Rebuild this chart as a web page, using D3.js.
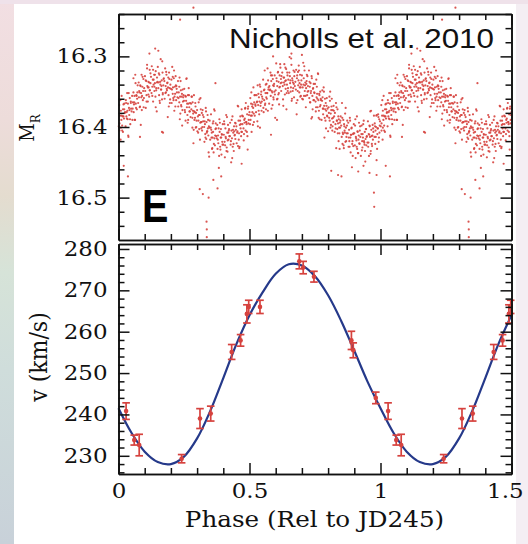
<!DOCTYPE html>
<html>
<head>
<meta charset="utf-8">
<script src="https://cdn.jsdelivr.net/npm/d3@7"></script>
<style>
  html, body { margin: 0; padding: 0; background: #fff; }
  svg { display: block; }
</style>
</head>
<body>
<svg id="chart" width="528" height="544"></svg>
<script>
// ---------------------------------------------------------------
// Tick values
const phaseMajorTicks = [0, 0.5, 1, 1.5];
const phaseMinorTicks = [0.1, 0.2, 0.3, 0.4, 0.6, 0.7, 0.8, 0.9, 1.1, 1.2, 1.3, 1.4];
const magMajorTicks = [16.3, 16.4, 16.5];
const magMinorTicks = [16.24, 16.26, 16.28, 16.32, 16.34, 16.36, 16.38,
                       16.42, 16.44, 16.46, 16.48, 16.52, 16.54];
const velMajorTicks = [230, 240, 250, 260, 270, 280];
const velMinorTicks = [226, 228, 232, 234, 236, 238, 242, 244, 246, 248,
                       252, 254, 256, 258, 262, 264, 266, 268, 272, 274, 276, 278];

// ---------------------------------------------------------------
// R-band photometry folded on the orbital period.
// Each entry: [phase x 1000, (M_R - 16) x 1000]
const lightCurve = [
  [1,399],[3,369],[4,405],[6,384],[8,418],[9,377],[11,390],[12,356],[14,398],[16,385],[17,407],[19,368],[21,388],[22,375],[24,380],
  [25,379],[27,399],[28,362],[30,385],[31,379],[33,352],[35,389],[36,367],[38,414],[40,373],[41,383],[43,359],[45,396],[47,364],[48,374],
  [50,378],[52,356],[53,390],[55,365],[57,331],[58,379],[60,365],[61,356],[63,390],[65,338],[66,367],[68,355],[70,375],[71,360],[73,341],
  [75,366],[77,337],[78,358],[80,351],[81,372],[83,341],[85,397],[86,352],[88,326],[90,356],[91,343],[93,362],[95,332],[96,372],[98,345],
  [101,328],[102,349],[104,373],[106,335],[107,355],[109,312],[110,342],[112,364],[114,336],[115,344],[117,357],[119,319],[120,348],[122,338],[124,329],
  [126,352],[127,314],[129,343],[131,333],[132,364],[134,340],[136,326],[137,349],[139,338],[141,357],[142,321],[144,345],[146,378],[147,330],[149,336],
  [150,315],[152,345],[153,337],[155,355],[156,326],[158,366],[160,340],[161,304],[163,347],[165,334],[166,361],[168,323],[169,352],[171,341],[173,331],
  [175,335],[176,360],[178,317],[180,342],[181,351],[183,326],[185,348],[186,338],[188,386],[190,330],[191,355],[193,323],[195,345],[196,366],[198,340],
  [200,346],[202,333],[203,366],[205,315],[207,353],[208,344],[210,362],[211,331],[213,377],[215,343],[216,353],[218,328],[220,362],[221,342],[223,351],
  [225,358],[227,335],[228,371],[230,351],[232,365],[233,330],[235,357],[236,381],[238,348],[240,371],[241,357],[243,398],[245,347],[246,364],[248,355],
  [250,363],[251,346],[253,376],[255,356],[256,391],[258,363],[260,331],[261,372],[263,383],[265,355],[266,390],[268,345],[270,372],[271,378],[273,366],
  [275,386],[277,367],[278,375],[280,357],[282,401],[283,365],[285,381],[286,423],[288,355],[290,390],[291,379],[293,366],[295,401],[296,380],[298,391],
  [300,376],[301,406],[303,385],[305,391],[306,365],[308,403],[310,383],[311,418],[313,359],[315,393],[316,402],[318,380],[320,400],[321,376],[323,392],
  [325,386],[327,400],[328,421],[330,396],[331,410],[333,373],[335,417],[336,393],[338,406],[340,383],[341,402],[343,412],[345,399],[346,442],[348,391],
  [350,418],[352,401],[353,382],[355,415],[356,408],[358,430],[360,395],[361,407],[363,436],[365,375],[366,416],[368,426],[370,403],[371,395],[373,413],
  [375,416],[377,397],[378,431],[380,412],[381,423],[383,458],[385,389],[386,407],[388,428],[390,415],[391,403],[393,439],[395,411],[396,421],[398,396],
  [400,425],[402,411],[403,392],[405,421],[406,443],[408,402],[410,416],[411,383],[413,429],[415,408],[416,435],[418,397],[420,418],[421,405],[423,413],
  [425,413],[426,394],[428,425],[430,450],[431,405],[433,416],[435,385],[436,428],[438,408],[440,434],[441,399],[443,412],[445,394],[446,417],[448,404],
  [450,399],[451,423],[453,408],[455,370],[456,427],[458,391],[460,409],[461,430],[463,397],[465,385],[466,402],[468,413],[470,375],[471,407],[473,396],
  [475,385],[477,402],[478,419],[480,390],[481,394],[483,374],[485,405],[486,366],[488,393],[490,407],[491,382],[493,432],[495,371],[496,395],[498,383],
  [500,379],[502,396],[503,359],[505,384],[506,367],[508,407],[510,371],[511,379],[513,397],[515,344],[516,381],[518,365],[520,384],[521,355],[523,370],
  [525,379],[527,355],[528,365],[530,392],[531,341],[533,369],[535,377],[536,358],[538,364],[540,401],[541,343],[543,366],[545,350],[546,377],[548,357],
  [550,360],[552,333],[553,373],[555,348],[556,362],[558,320],[560,367],[561,352],[563,375],[565,339],[566,360],[568,352],[570,377],[571,334],[573,344],
  [575,367],[576,342],[578,348],[580,323],[581,356],[583,335],[585,349],[586,327],[588,369],[590,341],[591,358],[593,342],[595,350],[596,327],[598,387],
  [600,348],[602,310],[603,331],[605,361],[606,342],[608,323],[610,354],[611,336],[613,368],[615,327],[616,343],[618,316],[620,332],[621,349],[623,337],
  [625,323],[627,342],[628,361],[630,330],[631,337],[633,311],[635,354],[636,335],[638,346],[640,318],[641,375],[643,340],[645,327],[646,349],[648,333],
  [650,352],[652,323],[653,301],[655,338],[656,334],[658,344],[660,312],[661,363],[663,331],[665,349],[666,337],[668,320],[670,358],[671,328],[673,342],
  [675,336],[677,347],[678,319],[680,382],[681,331],[683,362],[685,322],[686,341],[688,313],[690,351],[691,338],[693,326],[695,344],[696,356],[698,334],
  [700,327],[701,360],[703,344],[705,309],[706,340],[708,356],[710,320],[711,349],[713,337],[715,372],[716,345],[718,335],[720,355],[721,328],[723,342],
  [725,349],[727,320],[728,359],[730,343],[731,365],[733,338],[735,349],[736,388],[738,331],[740,356],[741,375],[743,345],[745,339],[746,362],[748,352],
  [750,339],[752,364],[753,378],[755,333],[756,358],[758,353],[760,372],[761,324],[763,362],[765,377],[766,353],[768,389],[770,350],[771,369],[773,362],
  [775,390],[777,363],[778,348],[780,374],[781,382],[783,344],[785,370],[786,415],[788,360],[790,391],[791,366],[793,377],[795,359],[796,384],[798,374],
  [800,406],[802,372],[803,380],[805,357],[806,391],[808,350],[810,381],[811,397],[813,371],[815,388],[816,405],[818,376],[820,393],[821,370],[823,385],
  [825,407],[826,380],[828,396],[830,366],[831,430],[833,391],[835,403],[836,375],[838,395],[840,420],[841,389],[843,409],[845,394],[846,401],[848,385],
  [850,398],[852,414],[853,366],[855,424],[856,408],[858,390],[860,430],[861,396],[863,405],[865,381],[866,421],[868,401],[870,414],[871,409],[873,391],
  [875,409],[877,394],[878,428],[880,404],[881,420],[883,387],[885,415],[886,436],[888,411],[890,401],[891,457],[893,420],[895,410],[896,427],[898,396],
  [900,409],[902,426],[903,398],[905,444],[906,414],[908,419],[910,385],[911,431],[913,407],[915,437],[916,418],[918,394],[920,424],[921,405],[923,414],
  [925,441],[927,410],[928,398],[930,420],[931,429],[933,415],[935,455],[936,391],[938,422],[940,407],[941,434],[943,417],[945,403],[946,426],[948,413],
  [950,422],[952,392],[953,428],[955,410],[956,441],[958,398],[960,414],[961,378],[963,434],[965,404],[966,413],[968,427],[970,397],[971,418],[973,407],
  [975,384],[977,414],[978,395],[980,424],[981,405],[983,400],[985,447],[986,383],[988,410],[990,402],[991,382],[993,421],[995,389],[996,408],[998,392],
  [4,395],[7,362],[9,401],[12,384],[14,405],[17,375],[19,385],[22,367],
  [29,366],[32,388],[34,377],[37,412],[39,352],[42,376],[44,389],[47,366],
  [54,374],[57,351],[59,368],[62,390],[64,326],[67,373],[69,356],[72,351],
  [79,349],[82,371],[84,342],[87,358],[89,376],[92,329],[94,349],[97,359],
  [104,334],[107,364],[109,317],[112,344],[114,354],[117,337],[119,348],[122,324],
  [129,356],[132,319],[134,333],[137,343],[139,326],[142,372],[144,348],[147,337],
  [154,324],[157,363],[159,336],[162,347],[164,342],[167,307],[169,354],[172,332],
  [179,352],[182,322],[184,346],[187,337],[189,344],[192,371],[194,332],[197,361],
  [204,347],[207,329],[209,359],[212,320],[214,357],[217,371],[219,341],[222,346],
  [229,359],[232,343],[234,389],[237,335],[239,369],[242,353],[244,376],[247,358],
  [254,379],[257,357],[259,332],[262,367],[264,394],[267,367],[269,355],[272,378],
  [279,357],[282,387],[284,377],[287,404],[289,378],[292,387],[294,371],[297,400],
  [304,408],[307,383],[309,361],[312,394],[314,375],[317,393],[319,405],[322,383],
  [329,392],[332,415],[334,378],[337,408],[339,406],[342,390],[344,436],[347,401],
  [354,404],[357,431],[359,415],[362,392],[364,424],[367,377],[369,412],[372,402],
  [379,418],[382,402],[384,441],[387,394],[389,432],[392,415],[394,410],[397,425],
  [404,396],[407,426],[409,414],[412,434],[414,386],[417,419],[419,408],[422,403],
  [429,420],[432,390],[434,444],[437,404],[439,424],[442,406],[444,411],[447,395],
  [454,406],[457,371],[459,418],[462,428],[464,391],[467,396],[469,407],[472,384],
  [479,410],[482,388],[484,373],[487,393],[489,396],[492,413],[494,374],[497,390],
  [504,390],[507,351],[509,384],[512,368],[514,373],[517,393],[519,355],[522,368],
  [529,364],[532,399],[534,353],[537,382],[539,340],[542,370],[544,354],[547,364],
  [554,379],[557,347],[559,369],[562,340],[564,358],[567,352],[569,317],[572,347],
  [579,347],[582,327],[584,374],[587,351],[589,332],[592,361],[594,339],[597,354],
  [604,335],[607,360],[609,322],[612,352],[614,344],[617,311],[619,338],[622,328],
  [629,370],[632,330],[634,340],[637,316],[639,334],[642,352],[644,323],[647,345],
  [654,328],[657,350],[659,303],[662,360],[664,334],[667,345],[669,339],[672,322],
  [679,366],[682,327],[684,349],[687,334],[689,320],[692,344],[694,357],[697,340],
  [704,361],[707,331],[709,314],[712,341],[714,356],[717,339],[719,326],[722,350],
  [729,336],[732,365],[734,352],[737,328],[739,386],[742,346],[744,362],[747,351],
  [754,372],[757,343],[759,360],[762,325],[764,387],[767,355],[769,371],[772,360],
  [779,358],[782,374],[784,350],[787,387],[789,375],[792,402],[794,370],[797,385],
  [804,387],[807,363],[809,401],[812,376],[814,360],[817,399],[819,387],[822,377],
  [829,402],[832,372],[834,391],[837,409],[839,385],[842,401],[844,431],[847,391],
  [854,387],[857,410],[859,426],[862,399],[864,408],[867,373],[869,420],[872,398],
  [879,415],[882,428],[884,391],[887,411],[889,402],[892,424],[894,441],[897,409],
  [904,389],[907,416],[909,428],[912,406],[914,437],[917,412],[919,423],[922,399],
  [929,433],[932,410],[934,396],[937,420],[939,425],[942,449],[944,403],[947,414],
  [954,422],[957,411],[959,399],[962,438],[964,377],[967,424],[969,412],[972,402],
  [979,399],[982,414],[984,384],[987,431],[989,402],[992,386],[994,415],[997,398],
  // scattered measurements away from the main band
  [336,534],[337,545],[337,556],[344,500],[286,231],[235,248],[140,289],[152,292],[118,296],[36,470],[20,455],
  [362,475],[378,487],[392,470],[310,488],[322,495],[812,462],[838,468],[851,470],[958,465],[975,493],[976,513],
  [985,468],[915,463],[700,298],[660,296],[590,300],[470,452],[370,338],[166,407],[582,411],[605,390],[82,414],[170,408]
];

// ---------------------------------------------------------------
// Radial velocities (km/s) with 1-sigma errors
const rvPhase    = [0.029, 0.060, 0.079, 0.241, 0.311, 0.352, 0.432, 0.466, 0.490, 0.497, 0.540, 0.690, 0.705, 0.746, 0.889, 0.896, 0.982];
const rvVelocity = [240.8, 233.8, 232.6, 229.3, 239.0, 240.2, 255.1, 257.9, 264.3, 266.0, 266.0, 277.0, 275.5, 273.3, 257.9, 255.5, 244.0];
const rvError    = [2.0,   1.2,   2.6,   1.0,   2.4,   1.8,   1.8,   1.4,   2.2,   1.6,   1.6,   1.8,   1.5,   1.3,   2.2,   1.8,   1.4];

// Orbital solution sampled in phase
const orbitPhase = [0, 0.05, 0.10, 0.15, 0.20, 0.25, 0.30, 0.35, 0.40, 0.45, 0.50,
                    0.55, 0.60, 0.65, 0.70, 0.75, 0.80, 0.85, 0.90, 0.95, 1.00,
                    1.05, 1.10, 1.15, 1.20, 1.25, 1.30, 1.35, 1.40, 1.45, 1.50];
const orbitVelocity = [241.5, 235.5, 231.0, 228.5, 228.0, 229.8, 234.2, 240.8, 248.8, 257.0, 264.0,
                       269.5, 274.0, 276.3, 276.0, 273.4, 268.8, 262.6, 255.4, 248.0, 241.5,
                       235.5, 231.0, 228.5, 228.0, 229.8, 234.2, 240.8, 248.8, 257.0, 264.0];

// ---------------------------------------------------------------
const W = 528, H = 544;
const SX = 1.12;                       // lettering is drawn slightly wide
const serif = "'DejaVu Serif', serif";
const red = "#d6423e";
const svg = d3.select("#chart");

// backdrop and paper
const defs = svg.append("defs");
const edge = defs.append("linearGradient").attr("id", "edge")
  .attr("x1", 0).attr("y1", 0).attr("x2", 0).attr("y2", 1);
[["0%", "#f2dfe3"], ["22%", "#eddcda"], ["36%", "#e4dccf"], ["50%", "#d6e3d8"],
 ["68%", "#cfdddb"], ["100%", "#c8d1d9"]].forEach(([o, c]) =>
  edge.append("stop").attr("offset", o).attr("stop-color", c));
svg.append("rect").attr("width", W).attr("height", H).attr("fill", "url(#edge)");
svg.append("rect").attr("x", 514).attr("width", W - 514).attr("height", H).attr("fill", "#f4eef3");
svg.append("rect").attr("width", W).attr("height", 4).attr("fill", "#efe2ea");
svg.append("rect").attr("x", 14).attr("y", 4).attr("width", 502).attr("height", H - 4).attr("fill", "#ffffff");

// scales
const x = d3.scaleLinear().domain([0, 1.5]).range([118.5, 511.5]);
const yMag = d3.scaleLinear().domain([16.24, 16.56]).range([14, 240]);
const yVel = d3.scaleLinear().domain([225.6, 281.2]).range([474, 244]);

// ---------------------------------------------------------------
// photometry (phases 0-0.5 repeated at 1-1.5)
const photPts = [];
lightCurve.forEach(([p, m]) => {
  const ph = p / 1000, mag = 16 + m / 1000;
  photPts.push([ph, mag]);
  if (ph + 1 <= 1.5) photPts.push([ph + 1, mag]);
});
svg.append("g").selectAll("circle").data(photPts).join("circle")
  .attr("cx", d => x(d[0])).attr("cy", d => yMag(d[1]))
  .attr("r", 1.1).attr("fill", red).attr("fill-opacity", 0.9);

// ---------------------------------------------------------------
// velocity curve
const orbit = orbitPhase.map((p, i) => [p, orbitVelocity[i]]);
svg.append("path").datum(orbit)
  .attr("d", d3.line().x(d => x(d[0])).y(d => yVel(d[1])).curve(d3.curveCatmullRom))
  .attr("fill", "none").attr("stroke", "#25398a").attr("stroke-width", 2.2);

const rvPts = [];
rvPhase.forEach((p, i) => {
  const d = { v: rvVelocity[i], e: rvError[i] };
  rvPts.push({ ...d, p });
  if (p + 1 <= 1.501) rvPts.push({ ...d, p: p + 1 });
});
const rvG = svg.append("g").attr("stroke", red).attr("stroke-width", 1.7);
rvPts.forEach(d => {
  const cx = x(d.p), y0 = yVel(d.v - d.e), y1 = yVel(d.v + d.e);
  rvG.append("line").attr("x1", cx).attr("x2", cx).attr("y1", y0).attr("y2", y1);
  rvG.append("line").attr("x1", cx - 3.8).attr("x2", cx + 3.8).attr("y1", y0).attr("y2", y0);
  rvG.append("line").attr("x1", cx - 3.8).attr("x2", cx + 3.8).attr("y1", y1).attr("y2", y1);
  rvG.append("circle").attr("cx", cx).attr("cy", yVel(d.v)).attr("r", 2.3)
    .attr("fill", red).attr("stroke", "none");
});

// ---------------------------------------------------------------
// axes: ticks point inward on all four sides of both panels
function styleAxis(g) {
  g.selectAll(".domain").attr("stroke", "#111").attr("stroke-width", 1.6);
  g.selectAll(".tick line").attr("stroke", "#111").attr("stroke-width", 1.5);
}
function panel(ys, yTop, yBottom, major, minor, labelY, labelX) {
  const x0 = x.range()[0], x1 = x.range()[1];
  // left
  const left = svg.append("g").attr("transform", `translate(${x0},0)`);
  left.call(d3.axisLeft(ys).tickValues(minor).tickSize(-6).tickSizeOuter(0).tickFormat(""));
  const leftMaj = svg.append("g").attr("transform", `translate(${x0},0)`)
    .call(d3.axisLeft(ys).tickValues(major).tickSize(-11).tickSizeOuter(0).tickPadding(9.8));
  // right
  const right = svg.append("g").attr("transform", `translate(${x1},0)`);
  right.call(d3.axisRight(ys).tickValues(minor).tickSize(-6).tickSizeOuter(0).tickFormat(""));
  right.call(g => g.append("g").call(d3.axisRight(ys).tickValues(major).tickSize(-11).tickSizeOuter(0).tickFormat("")));
  // top & bottom
  const top = svg.append("g").attr("transform", `translate(0,${yTop})`);
  top.call(d3.axisTop(x).tickValues(phaseMinorTicks).tickSize(-6).tickSizeOuter(0).tickFormat(""));
  top.append("g").call(d3.axisTop(x).tickValues(phaseMajorTicks).tickSize(-11).tickSizeOuter(0).tickFormat(""));
  const bottom = svg.append("g").attr("transform", `translate(0,${yBottom})`);
  bottom.call(d3.axisBottom(x).tickValues(phaseMinorTicks).tickSize(-6).tickSizeOuter(0).tickFormat(""));
  const bottomMaj = bottom.append("g").call(d3.axisBottom(x).tickValues(phaseMajorTicks)
    .tickSize(-11).tickSizeOuter(0).tickPadding(9.5).tickFormat(d => labelX ? d3.format("")(d) : ""));
  [left, leftMaj, right, top, bottom].forEach(styleAxis);

  leftMaj.selectAll("text").attr("font-family", serif).attr("font-size", 20.5)
    .attr("fill", "#111").attr("transform", `scale(${SX},1)`).text(labelY);
  if (labelX) {
    bottomMaj.selectAll("text").attr("font-family", serif).attr("font-size", 20.5)
      .attr("fill", "#111").attr("transform", `scale(${SX},1)`)
      // the last label sits against the page edge; pull it in a little
      .attr("x", d => d === 1.5 ? -6 : 0);
  }
}
panel(yMag, 14, 240, magMajorTicks, magMinorTicks, d => d3.format(".1f")(d), false);
panel(yVel, 244, 474, velMajorTicks, velMinorTicks, d => d3.format("d")(d), true);

// ---------------------------------------------------------------
// labels
function label(txt, px, py, opts) {
  const t = svg.append("text")
    .attr("transform", `translate(${px},${py}) scale(${opts.sx || 1},1)` + (opts.rot ? ` rotate(${opts.rot})` : ""))
    .attr("font-family", opts.family || serif)
    .attr("font-size", opts.size)
    .attr("font-weight", opts.weight || "normal")
    .attr("text-anchor", opts.anchor || "middle")
    .attr("fill", opts.fill || "#111");
  if (typeof txt === "function") txt(t); else t.text(txt);
  return t;
}
label("Phase (Rel to JD245)", 314.5, 527, { size: 22, sx: SX });
label("v (km/s)", 47, 357, { size: 22, sx: SX, rot: -90 });
label(t => {
  t.append("tspan").text("M");
  t.append("tspan").attr("font-size", 12).attr("dy", 5).text("R");
}, 34, 128, { size: 18, sx: SX, rot: -90 });
label("Nicholls et al. 2010", 494, 48, { size: 28, sx: SX, anchor: "end",
  family: "'Liberation Sans', Arial, sans-serif", fill: "#111" });
label("E", 142, 222, { size: 46, sx: 0.86, anchor: "start", weight: "bold",
  family: "'Liberation Sans', Arial, sans-serif", fill: "#000" });
</script>
</body>
</html>
